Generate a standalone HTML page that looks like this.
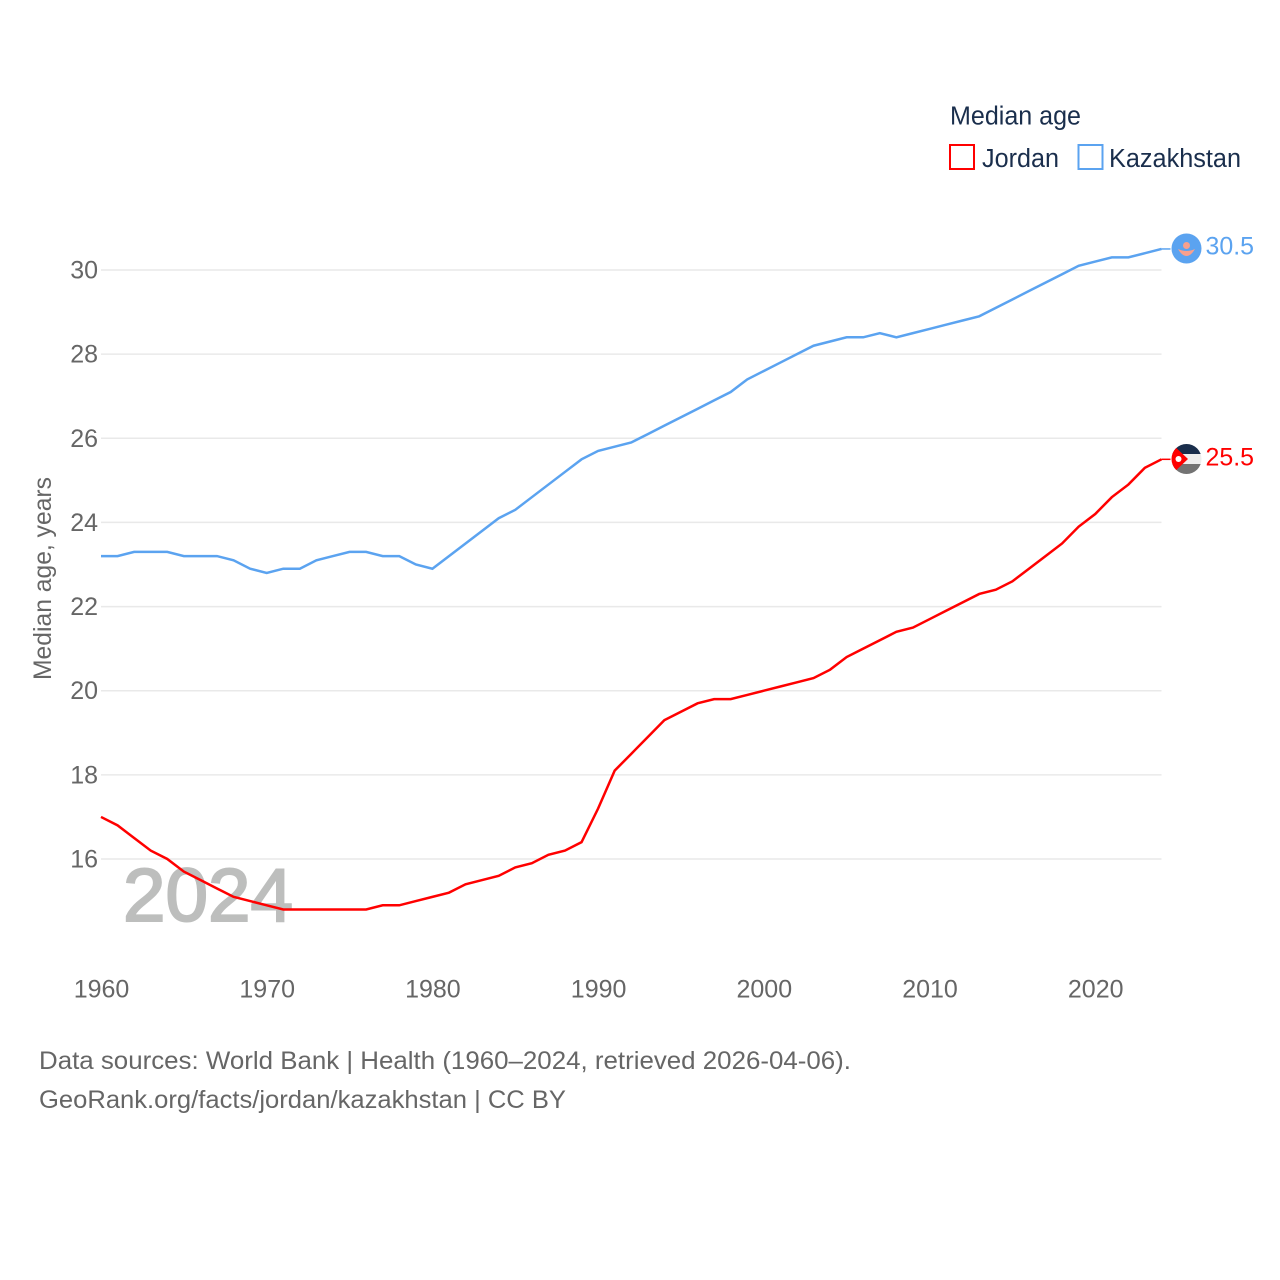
<!DOCTYPE html>
<html lang="en">
<head>
<meta charset="utf-8">
<title>Median age: Jordan and Kazakhstan</title>
<style>
html,body{margin:0;padding:0;background:#fff;}
svg{display:block;font-family:"Liberation Sans",sans-serif;}
</style>
</head>
<body>
<svg id="chart" width="1280" height="1280" viewBox="0 0 1280 1280" xmlns="http://www.w3.org/2000/svg">
  <rect width="1280" height="1280" fill="#ffffff"/>
  <g id="grid"></g>
  <text x="123" y="921" font-size="75" fill="#bdbebd" stroke="#bdbebd" stroke-width="2" textLength="170" lengthAdjust="spacingAndGlyphs">2024</text>
  <g id="y-ticks"></g>
  <g id="x-ticks"></g>
  <text transform="translate(51,680) rotate(-90)" font-size="25" fill="#666666" textLength="203" lengthAdjust="spacingAndGlyphs">Median age, years</text>
  <g id="series"></g>

  <g>
    <text x="950" y="124.500" font-size="25.500" fill="#1a2e4c" textLength="131" lengthAdjust="spacingAndGlyphs">Median age</text>
    <g>
      <rect x="950" y="145" width="24" height="24" fill="#fff" stroke="#ff0000" stroke-width="2"/>
      <text x="982" y="167" font-size="25.500" fill="#1a2e4c" textLength="77" lengthAdjust="spacingAndGlyphs">Jordan</text>
    </g>
    <g>
      <rect x="1078.500" y="145" width="24" height="24" fill="#fff" stroke="#5ba3f0" stroke-width="2"/>
      <text x="1109" y="167" font-size="25.500" fill="#1a2e4c" textLength="132" lengthAdjust="spacingAndGlyphs">Kazakhstan</text>
    </g>
  </g>

  <defs>
    <clipPath id="jordan-clip"><circle cx="1186.500" cy="459" r="15"/></clipPath>
  </defs>
  <g>
    <circle cx="1186.500" cy="248.500" r="15" fill="#5ba3f0"/>
    <circle cx="1186.500" cy="245.500" r="3.500" fill="#f8a08e"/>
    <path d="M1178 249 Q1186.500 253 1195 249 Q1191 256 1186.500 256 Q1182 256 1178 249 Z" fill="#f8a08e"/>
  </g>
  <g clip-path="url(#jordan-clip)">
    <rect x="1171" y="444" width="31" height="10" fill="#1a2e4c"/>
    <rect x="1171" y="454" width="31" height="10" fill="#eeeeee"/>
    <rect x="1171" y="464" width="31" height="10" fill="#737373"/>
    <path d="M1171 443 L1188 459 L1171 475 Z" fill="#ff0000"/>
    <circle cx="1178.500" cy="459" r="3" fill="#ffffff"/>
  </g>
  <text x="1205.500" y="254.500" font-size="25" fill="#5ba3f0" textLength="48.500" lengthAdjust="spacingAndGlyphs">30.5</text>
  <text x="1205.500" y="465.500" font-size="25" fill="#ff0000" textLength="48.500" lengthAdjust="spacingAndGlyphs">25.5</text>

  <text x="39" y="1069" font-size="25" fill="#666666" textLength="812" lengthAdjust="spacingAndGlyphs">Data sources: World Bank | Health (1960–2024, retrieved 2026-04-06).</text>
  <text x="39" y="1108" font-size="25" fill="#666666" textLength="527" lengthAdjust="spacingAndGlyphs">GeoRank.org/facts/jordan/kazakhstan | CC BY</text>
</svg>
<script>
const startYear = 1960;
const yTickValues = [16, 18, 20, 22, 24, 26, 28, 30];
const xTickValues = [1960, 1970, 1980, 1990, 2000, 2010, 2020];
const jordanValues = [17.0,16.8,16.5,16.2,16.0,15.7,15.5,15.3,15.1,15.0,14.9,14.8,14.8,14.8,14.8,14.8,14.8,14.9,14.9,15.0,15.1,15.2,15.4,15.5,15.6,15.8,15.9,16.1,16.2,16.4,17.2,18.1,18.5,18.9,19.3,19.5,19.7,19.8,19.8,19.9,20.0,20.1,20.2,20.3,20.5,20.8,21.0,21.2,21.4,21.5,21.7,21.9,22.1,22.3,22.4,22.6,22.9,23.2,23.5,23.9,24.2,24.6,24.9,25.3,25.5];
const kazakhstanValues = [23.2,23.2,23.3,23.3,23.3,23.2,23.2,23.2,23.1,22.9,22.8,22.9,22.9,23.1,23.2,23.3,23.3,23.2,23.2,23.0,22.9,23.2,23.5,23.8,24.1,24.3,24.6,24.9,25.2,25.5,25.7,25.8,25.9,26.1,26.3,26.5,26.7,26.9,27.1,27.4,27.6,27.8,28.0,28.2,28.3,28.4,28.4,28.5,28.4,28.5,28.6,28.7,28.8,28.9,29.1,29.3,29.5,29.7,29.9,30.1,30.2,30.3,30.3,30.4,30.5];

const SVG_NS = 'http://www.w3.org/2000/svg';
function xScale(year) { return 101 + (year - 1960) * (1161.5 - 101) / 64; }
function yScale(value) { return 270 + (30 - value) * (859 - 270) / 14; }

const gridGroup = document.getElementById('grid');
const yGroup = document.getElementById('y-ticks');
const xGroup = document.getElementById('x-ticks');
const seriesGroup = document.getElementById('series');

yTickValues.forEach(function (v) {
  const line = document.createElementNS(SVG_NS, 'line');
  
  
  line.setAttribute('x1', 101);
  line.setAttribute('x2', 1161.5);
  line.setAttribute('y1', yScale(v));
  line.setAttribute('y2', yScale(v));
  line.setAttribute('stroke', '#e9e9e9');
  line.setAttribute('stroke-width', '1.5');
  gridGroup.appendChild(line);

  const label = document.createElementNS(SVG_NS, 'text');
  
  
  label.setAttribute('x', 98);
  label.setAttribute('y', yScale(v) + 8.5);
  label.setAttribute('text-anchor', 'end');
  label.setAttribute('font-size', '25');
  label.setAttribute('fill', '#666666');
  label.textContent = String(v);
  yGroup.appendChild(label);
});

xTickValues.forEach(function (year) {
  const label = document.createElementNS(SVG_NS, 'text');
  
  
  label.setAttribute('x', xScale(year) + 0.5);
  label.setAttribute('y', 997.5);
  label.setAttribute('text-anchor', 'middle');
  label.setAttribute('font-size', '25');
  label.setAttribute('fill', '#666666');
  label.textContent = String(year);
  xGroup.appendChild(label);
});

function pathFor(values) {
  return values.map(function (v, i) {
    return (i ? 'L' : 'M') + xScale(startYear + i).toFixed(2) + ' ' + yScale(v).toFixed(2);
  }).join(' ');
}

const jordanLine = document.createElementNS(SVG_NS, 'path');


jordanLine.setAttribute('d', pathFor(jordanValues));
jordanLine.setAttribute('fill', 'none');
jordanLine.setAttribute('stroke', '#ff0000');
jordanLine.setAttribute('stroke-width', '2.5');
seriesGroup.appendChild(jordanLine);

const kazakhstanLine = document.createElementNS(SVG_NS, 'path');


kazakhstanLine.setAttribute('d', pathFor(kazakhstanValues));
kazakhstanLine.setAttribute('fill', 'none');
kazakhstanLine.setAttribute('stroke', '#5ba3f0');
kazakhstanLine.setAttribute('stroke-width', '2.5');
seriesGroup.appendChild(kazakhstanLine);

const jordanConnector = document.createElementNS(SVG_NS, 'line');


jordanConnector.setAttribute('x1', xScale(2024));
jordanConnector.setAttribute('x2', xScale(2024) + 9);
jordanConnector.setAttribute('y1', yScale(jordanValues[jordanValues.length - 1]));
jordanConnector.setAttribute('y2', yScale(jordanValues[jordanValues.length - 1]));
jordanConnector.setAttribute('stroke', '#ff0000');
jordanConnector.setAttribute('stroke-width', '1.5');
seriesGroup.appendChild(jordanConnector);

const kazakhstanConnector = document.createElementNS(SVG_NS, 'line');


kazakhstanConnector.setAttribute('x1', xScale(2024));
kazakhstanConnector.setAttribute('x2', xScale(2024) + 9);
kazakhstanConnector.setAttribute('y1', yScale(kazakhstanValues[kazakhstanValues.length - 1]));
kazakhstanConnector.setAttribute('y2', yScale(kazakhstanValues[kazakhstanValues.length - 1]));
kazakhstanConnector.setAttribute('stroke', '#5ba3f0');
kazakhstanConnector.setAttribute('stroke-width', '1.5');
seriesGroup.appendChild(kazakhstanConnector);
</script>
</body>
</html>
